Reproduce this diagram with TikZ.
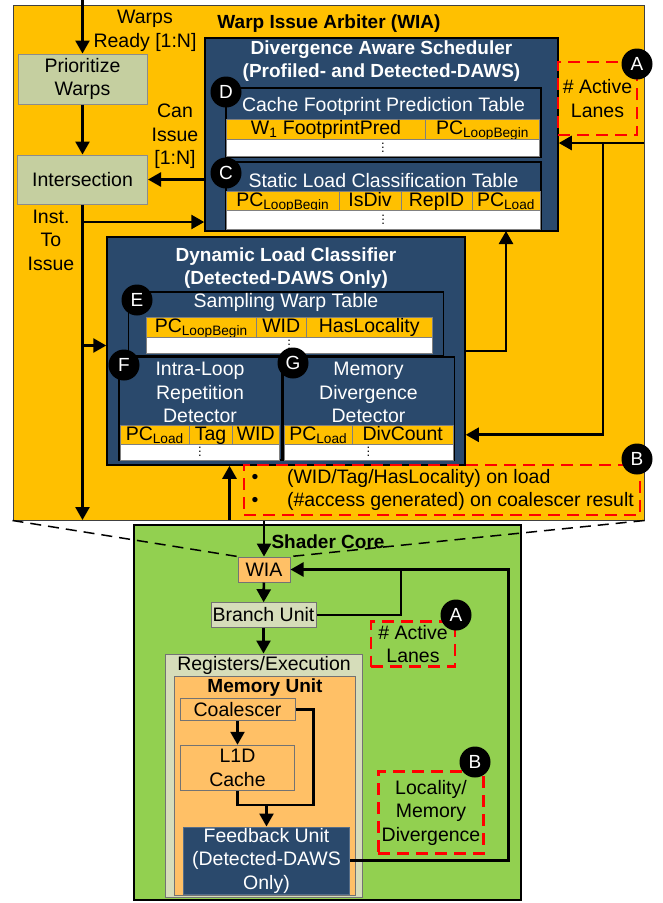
\documentclass[tikz,border=0pt]{standalone}
\usepackage{fontspec}
\setmainfont{Liberation Sans}
\usepackage{xcolor}
\usetikzlibrary{positioning, arrows.meta}

\definecolor{wiaorange}{RGB}{255,192,0}
\definecolor{dawsblue}{RGB}{42,73,108}
\definecolor{oliveprio}{RGB}{197,207,160}
\definecolor{olivelight}{RGB}{214,221,186}
\definecolor{unitorange}{RGB}{255,192,102}
\definecolor{coregreen}{RGB}{146,208,80}

\newcommand{\tabdots}{\vbox{\baselineskip=4pt\lineskiplimit=-10pt\hbox{.}\hbox{.}\hbox{.}}}

\begin{document}
\begin{tikzpicture}[
  x=1pt, y=-1pt,
  >={Triangle[length=13pt,width=14pt]},
  every node/.style={font=\fontsize{19.5}{23.5}\selectfont, inner sep=0pt, align=center},
  boxtitle/.style={font=\bfseries\fontsize{19}{23}\selectfont},
  wiabox/.style={draw=black!75, line width=1pt, fill=wiaorange},
  blubox/.style={draw=black, line width=1.5pt, fill=dawsblue, text=white},
  hdrcell/.style={draw=black!50, line width=1pt, fill=wiaorange, outer sep=0pt,
    minimum height=19.5pt, text height=13.5pt, text depth=3pt, anchor=west},
  rowcell/.style={draw=black!50, line width=1pt, fill=white, outer sep=0pt,
    minimum height=17pt, font=\fontsize{13}{13}\selectfont},
  olivebox/.style={draw=black!45, line width=1pt, fill=oliveprio},
  litebox/.style={draw=black!55, line width=1pt, fill=olivelight},
  orbox/.style={draw=black!55, line width=1pt, fill=unitorange},
  tagdot/.style={circle, fill=black, text=white, minimum size=31pt, font=\fontsize{19}{19}\selectfont},
  notebox/.style={draw=red, line width=2.6pt, dash pattern=on 12pt off 7pt},
  flow/.style={line width=2.6pt, ->},
  wire/.style={line width=2.6pt}
]
\useasboundingbox (0,0) rectangle (662,903);

% Warp Issue Arbiter
\node[wiabox, minimum width=631pt, minimum height=515pt] (wia) at (328.5,262.5) {};
\node[boxtitle] (wiatitle) at (329,24) {Warp Issue Arbiter (WIA)};

% Left column
\node[olivebox, minimum width=129pt, minimum height=50pt] (prio) at (82.5,79) {Prioritize\\Warps};
\node[olivebox, minimum width=130pt, minimum height=49pt] (isect) at (82.5,179.5) {Intersection};
\node (readylbl) at (145,31) {Warps\\Ready [1:N]};
\node (canlbl) at (175,136.5) {Can\\Issue\\{[1:N]}};
\node (instlbl) at (51,240) {Inst.\\To\\Issue};

% Divergence aware scheduler
\node[blubox, minimum width=353pt, minimum height=193pt] (das) at (381.5,134.5) {};
\node[boxtitle, text=white] (dastitle) at (381.5,61.5) {Divergence Aware Scheduler\\(Profiled- and Detected-DAWS)};

% Cache footprint prediction table
\node[blubox, minimum width=315pt, minimum height=69pt] (cfpt) at (383.5,122.5) {};
\node[text=white] (cftitle) at (383.5,106) {Cache Footprint Prediction Table};
\node[hdrcell, anchor=north west, minimum width=199pt] (cf1) at (226.5,119.5) {W\textsubscript{1} FootprintPred};
\node[hdrcell, minimum width=114pt] (cf2) at (cf1.east) {PC\textsubscript{LoopBegin}};
\node[rowcell, anchor=north west, minimum width=313pt] (cfrow) at (cf1.south west) {\tabdots};

% Static load classification table
\node[blubox, minimum width=315pt, minimum height=68pt] (slct) at (383.5,196) {};
\node[text=white] (sltitle) at (383.5,180.5) {Static Load Classification Table};
\node[hdrcell, anchor=north west, minimum width=112.5pt] (sl1) at (226.5,191) {PC\textsubscript{LoopBegin}};
\node[hdrcell, minimum width=62pt] (sl2) at (sl1.east) {IsDiv};
\node[hdrcell, minimum width=71pt] (sl3) at (sl2.east) {RepID};
\node[hdrcell, minimum width=68pt] (sl4) at (sl3.east) {PC\textsubscript{Load}};
\node[rowcell, anchor=north west, minimum width=313.5pt, minimum height=18.5pt] (slrow) at (sl1.south west) {\tabdots};

\node[tagdot] (tagd) at (226,92) {D};
\node[tagdot] (tagc) at (226,173) {C};

% Active lanes input
\node[notebox, minimum width=79pt, minimum height=73pt] (lanes) at (597.5,98.5) {\# Active\\Lanes};
\node[tagdot] (taga) at (637,64) {A};

% Dynamic load classifier
\node[blubox, minimum width=358pt, minimum height=228pt] (dlc) at (286,351) {};
\node[boxtitle, text=white] (dlctitle) at (286,268.5) {Dynamic Load Classifier\\(Detected-DAWS Only)};

% Sampling warp table
\node[blubox, minimum width=315pt, minimum height=64pt] (swt) at (286,324) {};
\node[text=white] (swtitle) at (286,302.5) {Sampling Warp Table};
\node[hdrcell, anchor=north west, minimum width=110.5pt] (sw1) at (146,317.5) {PC\textsubscript{LoopBegin}};
\node[hdrcell, minimum width=49.5pt] (sw2) at (sw1.east) {WID};
\node[hdrcell, minimum width=126.5pt] (sw3) at (sw2.east) {HasLocality};
\node[rowcell, anchor=north west, minimum width=286.5pt, minimum height=16.5pt] (swrow) at (sw1.south west) {\tabdots};
\node[tagdot] (tage) at (137,300) {E};

% Intra-loop repetition detector
\node[blubox, minimum width=162.5pt, minimum height=103pt] (ilrd) at (200,408.5) {};
\node[text=white] (iltitle) at (200,392.5) {Intra-Loop\\Repetition\\Detector};
\node[hdrcell, anchor=north west, minimum width=68.5pt] (il1) at (120.5,425) {PC\textsubscript{Load}};
\node[hdrcell, minimum width=43pt] (il2) at (il1.east) {Tag};
\node[hdrcell, minimum width=47.5pt] (il3) at (il2.east) {WID};
\node[rowcell, anchor=north west, minimum width=159pt, minimum height=15.5pt] (ilrow) at (il1.south west) {\tabdots};
\node[tagdot] (tagf) at (124,365) {F};

% Memory divergence detector
\node[blubox, minimum width=171.5pt, minimum height=103pt] (mdd) at (368.5,408.5) {};
\node[text=white] (mdtitle) at (368.5,392.5) {Memory\\Divergence\\Detector};
\node[hdrcell, anchor=north west, minimum width=68.5pt] (md1) at (284,425) {PC\textsubscript{Load}};
\node[hdrcell, minimum width=100.5pt] (md2) at (md1.east) {DivCount};
\node[rowcell, anchor=north west, minimum width=169pt, minimum height=15.5pt] (mdrow) at (md1.south west) {\tabdots};
\node[tagdot] (tagg) at (293,363) {G};

% Feedback into the classifier
\node[notebox, minimum width=396pt, minimum height=50pt] (fbnote) at (442,490) {};
\node[anchor=west, align=left] (fbitems) at (251.5,490) {\textbullet\hspace{28.5pt}(WID/Tag/HasLocality) on load\\
  \textbullet\hspace{28.5pt}(\#access generated) on coalescer result};
\node[tagdot] (tagb) at (637,459) {B};

% WIA connectors
\coordinate (warpsin) at (82.5,0);
\coordinate (issueout) at (82.5,520);
\coordinate (todas) at (82.5,222);
\coordinate (todlc) at (82.5,345.5);
\coordinate (lanesin) at (644,143);
\coordinate (lanessplit) at (603,143);
\coordinate (dasfb) at (506,231);
\coordinate (fbin) at (229.5,520);
\draw[flow] (warpsin) -- (prio.north);
\draw[flow] (prio) -- (isect);
\draw[flow] (isect) -- (issueout);
\draw[flow] (todas) -- (todas -| das.west);
\draw[flow] (todlc) -- (todlc -| dlc.west);
\draw[flow] (das.west |- isect.east) -- (isect.east);
\draw[flow] (lanesin) -- (lanesin -| das.east);
\draw[flow] (lanessplit) |- (dlc.east |- md1.east);
\draw[flow] (dlc.east) -| (dasfb);
\draw[flow] (fbin) -- (fbin |- dlc.south);

% Shader core
\node[fill=coregreen, draw=black, line width=2pt, minimum width=386.5pt, minimum height=375pt] (core) at (327.5,712.5) {};
\node[boxtitle] (coretitle) at (328,542) {Shader Core};
\node[orbox, minimum width=52pt, minimum height=25pt] (swia) at (264,569.5) {WIA};
\draw[line width=1.5pt, dash pattern=on 11pt off 7pt] (wia.south west) -- (swia.north west);
\draw[line width=1.5pt, dash pattern=on 11pt off 7pt] (wia.south east) -- (swia.north east);
\node[litebox, minimum width=105pt, minimum height=24.5pt] (branch) at (263.5,615) {Branch Unit};
\node[notebox, minimum width=84pt, minimum height=45pt] (corelanes) at (413,644) {\# Active\\Lanes};
\node[tagdot] (corea) at (456,615) {A};
\node[litebox, minimum width=197.5pt, minimum height=243pt] (regs) at (264,775.5) {};
\node (regstitle) at (264,665) {Registers/Execution};
\node[orbox, minimum width=181.5pt, minimum height=219pt] (memunit) at (265,785.5) {};
\node[boxtitle] (memtitle) at (265,688) {Memory Unit};
\node[orbox, minimum width=115pt, minimum height=22.5pt] (coal) at (237.5,709.5) {Coalescer};
\node[orbox, minimum width=113.5pt, minimum height=45.5pt] (l1d) at (237.5,768) {L1D\\Cache};
\node[blubox, draw=dawsblue!80!white, line width=1pt, minimum width=166.5pt, minimum height=67pt] (fu) at (266.5,860.5) {Feedback Unit\\(Detected-DAWS\\Only)};
\node[notebox, minimum width=105.5pt, minimum height=81.5pt] (corenote) at (431,812.5) {Locality/\\Memory\\Divergence};
\node[tagdot] (coreb) at (475,762) {B};

% Shader core connectors
\coordinate (lanesjoin) at (401,569.5);
\coordinate (fbturn) at (508.5,569.5);
\coordinate (mergeright) at (313.5,805);
\coordinate (mergemid) at (266.5,805);
\draw[flow] (swia.north |- wia.south) -- (swia.north);
\draw[flow] (swia) -- (branch);
\draw[flow] (branch.south) -- (branch.south |- regs.north);
\draw[flow] (branch.east) -| (lanesjoin) -- (swia.east);
\draw[wire] (fu.east) -| (fbturn) -- (lanesjoin);
\draw[flow] (coal) -- (l1d);
\draw[wire] (coal.east) -| (mergeright) -- (mergeright -| l1d.south) -- (l1d.south);
\draw[flow] (mergemid) -- (fu.north);

\end{tikzpicture}
\end{document}
